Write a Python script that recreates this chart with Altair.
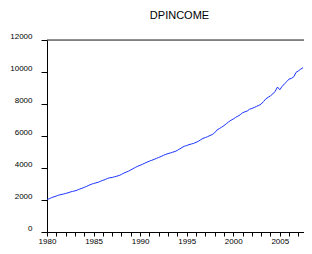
import altair as alt
import pandas as pd

# Quarterly DPINCOME values, 1980Q1 .. 2007Q3
years = list(range(1980, 2008))
dpincome = [
    2030, 2080, 2150, 2200,   # 1980
    2250, 2300, 2340, 2370,   # 1981
    2410, 2450, 2500, 2540,   # 1982
    2570, 2620, 2680, 2730,   # 1983
    2790, 2850, 2920, 2980,   # 1984
    3030, 3070, 3110, 3170,   # 1985
    3230, 3280, 3350, 3390,   # 1986
    3410, 3450, 3490, 3530,   # 1987
    3600, 3680, 3740, 3800,   # 1988
    3880, 3960, 4040, 4110,   # 1989
    4170, 4230, 4300, 4370,   # 1990
    4430, 4480, 4540, 4600,   # 1991
    4660, 4720, 4790, 4850,   # 1992
    4900, 4940, 4990, 5030,   # 1993
    5100, 5190, 5280, 5360,   # 1994
    5400, 5460, 5500, 5540,   # 1995
    5600, 5670, 5760, 5850,   # 1996
    5900, 5960, 6030, 6090,   # 1997
    6200, 6370, 6460, 6550,   # 1998
    6650, 6760, 6880, 6980,   # 1999
    7060, 7160, 7240, 7330,   # 2000
    7450, 7510, 7560, 7670,   # 2001
    7720, 7780, 7850, 7910,   # 2002
    8000, 8150, 8320, 8420,   # 2003
    8510, 8630, 8790, 9060,   # 2004
    8890, 9100, 9260, 9400,   # 2005
    9560, 9600, 9700, 9980,   # 2006
    10070, 10180, 10270,      # 2007
]
y_ticks = [0, 2000, 4000, 6000, 8000, 10000, 12000]

t = [years[i // 4] + (i % 4) / 4 for i in range(len(dpincome))]
df = pd.DataFrame({"t": t, "v": dpincome})

W, H = 257, 192
FONT = "Liberation Sans"

line = alt.Chart(df).mark_line(color="#1a33ff", strokeWidth=1).encode(
    x=alt.X(
        "t:Q",
        scale=alt.Scale(domain=[1980, 2007.6], nice=False, zero=False),
        axis=alt.Axis(
            values=years,
            labelExpr="datum.value % 5 == 0 ? datum.value : ''",
            format="d",
            title=None,
            grid=False,
            domainColor="black",
            tickColor="black",
            tickSize=4,
            labelFont=FONT,
            labelFontSize=8,
            labelColor="black",
            labelPadding=1,
            labelFlush=False,
        ),
    ),
    y=alt.Y(
        "v:Q",
        scale=alt.Scale(domain=[0, 12000], nice=False),
        axis=alt.Axis(
            values=y_ticks,
            format="d",
            title=None,
            grid=False,
            domainColor="black",
            tickColor="black",
            tickSize=6,
            labelFont=FONT,
            labelFontSize=8,
            labelColor="black",
            labelPadding=9,
            labelBaseline="bottom",
        ),
    ),
)

top = alt.Chart(pd.DataFrame({"a": [0]})).mark_rule(color="#222222", strokeWidth=1).encode(
    y=alt.value(0), x=alt.value(0), x2=alt.value(W)
)

chart = (
    alt.layer(line, top)
    .properties(
        width=W,
        height=H,
        autosize=alt.AutoSizeParams(type="none"),
        padding={"left": 39, "top": 32, "right": 0, "bottom": 14},
        title=alt.TitleParams(
            "DPINCOME",
            font=FONT,
            fontSize=11,
            fontWeight="normal",
            color="black",
            anchor="middle",
            offset=11,
            dx=4,
        ),
    )
    .configure_view(stroke=None)
    .configure(background="white")
)

chart.save("out.html", embed_options={"renderer": "svg", "actions": False})
